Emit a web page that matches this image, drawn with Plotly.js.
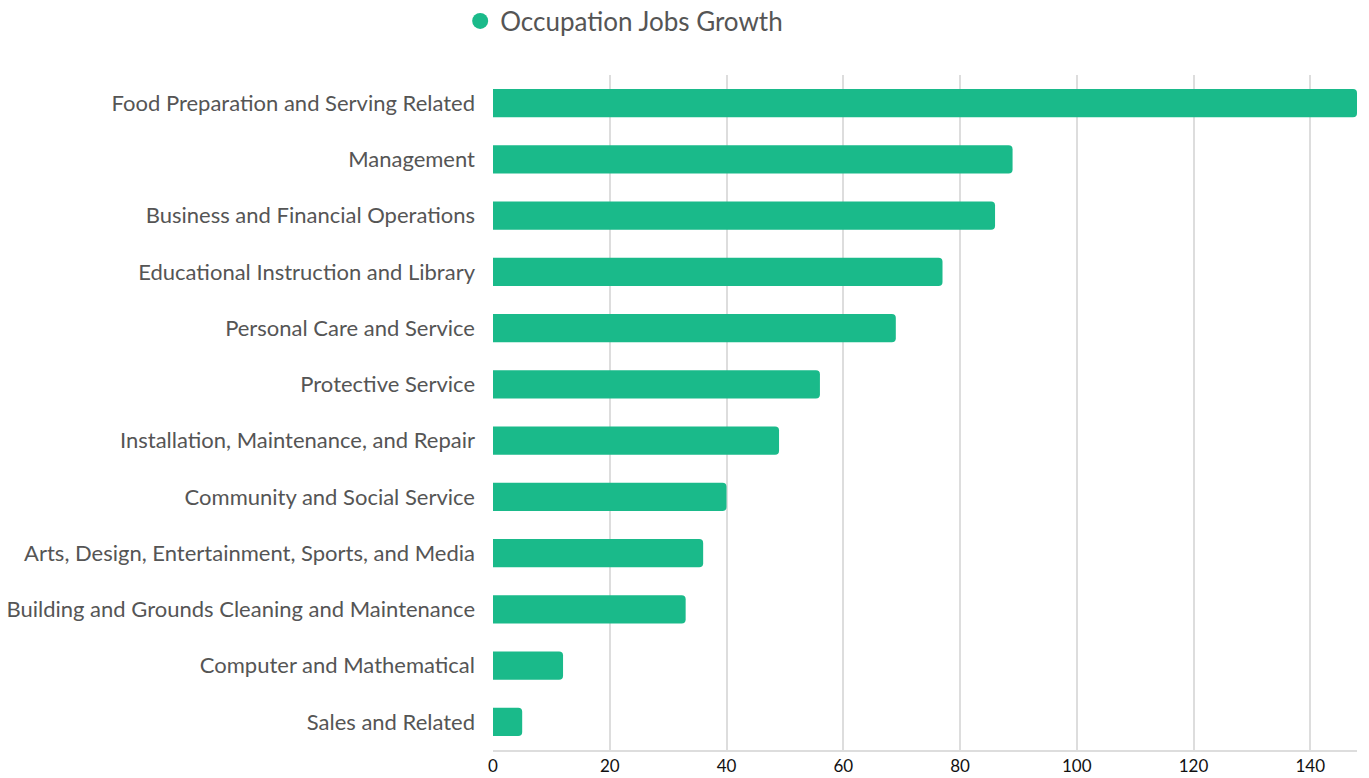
<!DOCTYPE html>
<html>
<head>
<meta charset="utf-8">
<script src="https://cdn.plot.ly/plotly-3.0.1.min.js"></script>
<style>html,body{margin:0;padding:0;background:#fff;}#chart{width:1369px;height:778px;}</style>
</head>
<body>
<div id="chart"></div>
<script>
const categories = [
  "Food Preparation and Serving Related",
  "Management",
  "Business and Financial Operations",
  "Educational Instruction and Library",
  "Personal Care and Service",
  "Protective Service",
  "Installation, Maintenance, and Repair",
  "Community and Social Service",
  "Arts, Design, Entertainment, Sports, and Media",
  "Building and Grounds Cleaning and Maintenance",
  "Computer and Mathematical",
  "Sales and Related"
];
const jobsGrowth = [148, 89, 86, 77, 69, 56, 49, 40, 36, 33, 12, 5];
const seriesName = "Occupation Jobs Growth";
const tickValues = [0, 20, 40, 60, 80, 100, 120, 140];
const barColor = "#1aba8a";

const barTrace = {
  type: "bar",
  orientation: "h",
  name: seriesName,
  x: jobsGrowth,
  y: categories,
  marker: {color: barColor, cornerradius: 4},
  showlegend: false,
  hoverinfo: "x+y"
};

// legend-only entry so the legend symbol is a circle, as in the reference
const legendTrace = {
  type: "scatter",
  mode: "markers",
  name: seriesName,
  x: [null],
  y: [null],
  marker: {color: barColor, size: 18, symbol: "circle"},
  showlegend: true,
  hoverinfo: "skip"
};

const layout = {
  width: 1369,
  height: 778,
  margin: {l: 493, r: 12, t: 75, b: 28, pad: 0, autoexpand: false},
  paper_bgcolor: "#ffffff",
  plot_bgcolor: "#ffffff",
  font: {family: "Lato, 'Open Sans', sans-serif", color: "#555555"},
  bargap: 0.5,
  xaxis: {
    range: [0, 148],
    tickvals: tickValues,
    showgrid: true,
    gridcolor: "#dddddd",
    gridwidth: 2,
    zeroline: false,
    showline: true,
    linecolor: "#dddddd",
    linewidth: 2,
    ticks: "",
    tickfont: {size: 17, color: "#111111"},
    automargin: false,
    fixedrange: true
  },
  yaxis: {
    categoryorder: "array",
    categoryarray: categories.slice().reverse(),
    autorange: true,
    showgrid: false,
    zeroline: false,
    showline: false,
    ticks: "",
    ticklabelstandoff: 17,
    tickfont: {size: 22, color: "#555555"},
    automargin: false,
    fixedrange: true
  },
  showlegend: true,
  legend: {
    orientation: "h",
    x: -0.038,
    xanchor: "left",
    y: 1.08,
    yanchor: "middle",
    font: {size: 26, color: "#555555"},
    itemsizing: "trace",
    bgcolor: "rgba(0,0,0,0)"
  }
};

Plotly.newPlot("chart", [barTrace, legendTrace], layout, {displayModeBar: false});
</script>
</body>
</html>
